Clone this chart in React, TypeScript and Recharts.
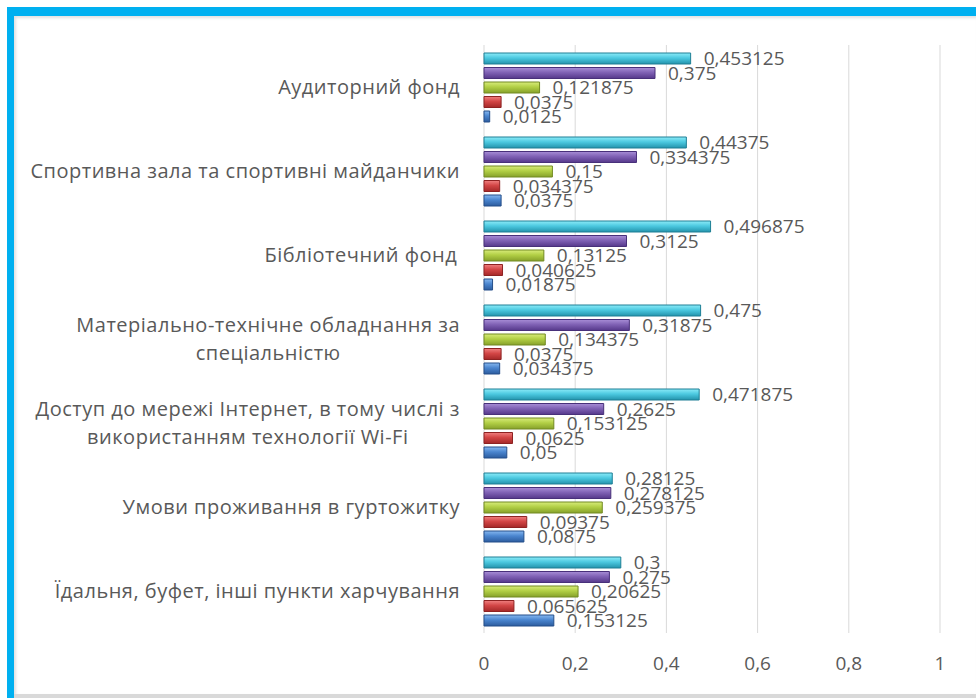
import { Bar, BarChart, CartesianGrid, LabelList, XAxis, YAxis } from "recharts"

const categories = [
  "Аудиторний фонд",
  "Спортивна зала та спортивні майданчики",
  "Бібліотечний фонд ",
  "Матеріально-технічне обладнання за\nспеціальністю",
  "Доступ до мережі Інтернет, в тому числі з\nвикористанням технології Wi-Fi",
  "Умови проживання в гуртожитку",
  "Їдальня, буфет, інші пункти харчування",
]

const cyanValues = [0.453125, 0.44375, 0.496875, 0.475, 0.471875, 0.28125, 0.3]
const purpleValues = [0.375, 0.334375, 0.3125, 0.31875, 0.2625, 0.278125, 0.275]
const greenValues = [0.121875, 0.15, 0.13125, 0.134375, 0.153125, 0.259375, 0.20625]
const redValues = [0.0375, 0.034375, 0.040625, 0.0375, 0.0625, 0.09375, 0.065625]
const blueValues = [0.0125, 0.0375, 0.01875, 0.034375, 0.05, 0.0875, 0.153125]

const xTicks = [0, 0.2, 0.4, 0.6, 0.8, 1]

const data = categories.map((name, i) => ({
  name,
  cyan: cyanValues[i],
  purple: purpleValues[i],
  green: greenValues[i],
  red: redValues[i],
  blue: blueValues[i],
}))

const series = [
  { key: "cyan", top: "#8CEBF8", mid: "#4CC9E0", bottom: "#2393AC", edge: "#1E7F95" },
  { key: "purple", top: "#A88ED6", mid: "#8062B5", bottom: "#55388A", edge: "#48307A" },
  { key: "green", top: "#D8EC7A", mid: "#B2CF45", bottom: "#86A12A", edge: "#728A22" },
  { key: "red", top: "#F08080", mid: "#D34646", bottom: "#A42828", edge: "#8E2222" },
  { key: "blue", top: "#86B8F0", mid: "#4A85CF", bottom: "#2C5C9E", edge: "#254F8A" },
]

const FONT = "'Open Sans', 'Noto Sans', sans-serif"
const TEXT = "#595959"
const LABEL_SIZE = 20
const LABEL_SPACING = 0.5
const comma = (v: any) => String(v).replace(".", ",")

let ctx: CanvasRenderingContext2D | null = null
function textWidth(s: string, size: number) {
  if (!ctx) ctx = document.createElement("canvas").getContext("2d")
  if (!ctx) return s.length * size * 0.5
  ctx.font = `${size}px 'Open Sans'`
  return ctx.measureText(s).width + s.length * LABEL_SPACING
}

function CategoryTick(props: any) {
  const { x, y, payload } = props
  const lines = String(payload.value).split("\n")
  const maxW = Math.max(...lines.map((l) => textWidth(l, LABEL_SIZE)))
  const cx = x - maxW / 2
  const lh = 28
  const y0 = y - ((lines.length - 1) * lh) / 2
  return (
    <g>
      {lines.map((l, i) => (
        <text
          key={i}
          x={cx}
          y={y0 + i * lh}
          dy="0.35em"
          textAnchor="middle"
          fill={TEXT}
          fontSize={LABEL_SIZE}
          letterSpacing={LABEL_SPACING}
          fontFamily={FONT}
        >
          {l}
        </text>
      ))}
    </g>
  )
}

export default function App() {
  return (
    <div style={{ position: "relative", width: 976, height: 698, background: "#fff", overflow: "hidden" }}>
      <style>{"body{margin:0}"}</style>
      <div style={{ position: "absolute", left: 7, top: 7, right: 0, bottom: 0, background: "#00B0F0" }} />
      <div style={{ position: "absolute", left: 14, top: 16, right: 0, bottom: 4, background: "#fff", boxShadow: "inset 2px 2px 3px rgba(0,0,0,0.12)" }} />
      <div style={{ position: "absolute", left: 14, right: 0, bottom: 0, height: 4, background: "#d9d9d9" }} />
      <div style={{ position: "absolute", left: 0, top: 0 }}>
        <BarChart
          width={976}
          height={698}
          data={data}
          layout="vertical"
          margin={{ top: 45, right: 36, bottom: 0, left: 0 }}
          barSize={11}
          barGap={3.5}
        >
          <defs>
            {series.map((s) => (
              <linearGradient key={s.key} id={`g-${s.key}`} x1="0" y1="0" x2="0" y2="1">
                <stop offset="0%" stopColor={s.top} />
                <stop offset="45%" stopColor={s.mid} />
                <stop offset="100%" stopColor={s.bottom} />
              </linearGradient>
            ))}
          </defs>
          <CartesianGrid horizontal={false} stroke="#d9d9d9" />
          <XAxis
            type="number"
            domain={[0, 1]}
            ticks={xTicks}
            tickFormatter={comma}
            axisLine={false}
            tickLine={false}
            tickSize={0}
            tickMargin={24}
            height={65}
            tick={{ fill: TEXT, fontSize: 19, fontFamily: FONT }}
          />
          <YAxis
            type="category"
            dataKey="name"
            width={484}
            axisLine={false}
            tickLine={false}
            tickSize={0}
            tickMargin={24}
            interval={0}
            tick={<CategoryTick />}
          />
          {series.map((s) => (
            <Bar
              key={s.key}
              dataKey={s.key}
              fill={`url(#g-${s.key})`}
              stroke={s.edge}
              strokeWidth={1}
              isAnimationActive={false}
            >
              <LabelList
                dataKey={s.key}
                position="right"
                offset={13}
                formatter={comma}
                fill={TEXT}
                fontSize={19}
                fontFamily={FONT}
              />
            </Bar>
          ))}
        </BarChart>
      </div>
    </div>
  )
}
